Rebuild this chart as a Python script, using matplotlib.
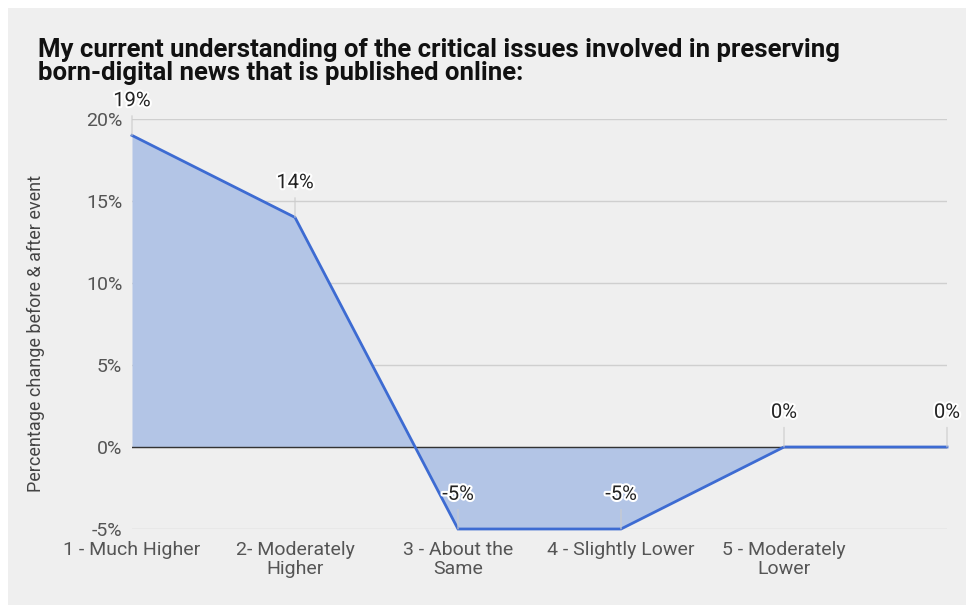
import matplotlib
matplotlib.use("Agg")
import matplotlib.pyplot as plt
from matplotlib.patches import Rectangle
from matplotlib.ticker import FixedLocator, FuncFormatter
import matplotlib.patheffects as pe

plt.rcParams['font.family'] = ['Roboto', 'DejaVu Sans']

title = ("My current understanding of the critical issues involved in preserving\n"
         "born-digital news that is published online:")
categories = ["1 - Much Higher", "2- Moderately\nHigher", "3 - About the\nSame",
              "4 - Slightly Lower", "5 - Moderately\nLower", ""]
values = [19, 14, -5, -5, 0, 0]
y_ticks = [-5, 0, 5, 10, 15, 20]
y_label = "Percentage change before & after event"

W, H = 966, 605
fig = plt.figure(figsize=(W / 100, H / 100), dpi=100, facecolor="white")

# light grey panel behind the chart
fig.patches.append(Rectangle((8 / W, 0), 1 - 8 / W, 1 - 8 / H,
                             transform=fig.transFigure, facecolor="#efefef",
                             edgecolor="none", zorder=-10))

ax = fig.add_axes([132 / W, 1 - 529 / H, (947 - 132) / W, (529 - 119) / H])
ax.set_facecolor("none")

x = list(range(len(values)))
line_color = "#3d6bd2"
ax.fill_between(x, values, 0, color="#b3c5e6", linewidth=0, zorder=2)
ax.plot(x, values, color=line_color, linewidth=2.0, zorder=4,
        clip_on=False, solid_joinstyle="miter")

ax.set_xlim(0, len(values) - 1)
ax.set_ylim(min(y_ticks), max(y_ticks))

ax.yaxis.set_major_locator(FixedLocator(y_ticks))
ax.yaxis.set_major_formatter(FuncFormatter(lambda v, p: f"{v:.0f}%"))
ax.set_xticks(x)
ax.set_xticklabels(categories, fontsize=14, color="#555555",
                   linespacing=1.08, multialignment="center")
ax.tick_params(axis="both", length=0)
ax.tick_params(axis="x", pad=8.5)
ax.tick_params(axis="y", pad=7, labelsize=14, labelcolor="#555555")

for s in ax.spines.values():
    s.set_visible(False)

ax.grid(axis="y", color="#cfcfcf", linewidth=1.0, zorder=1)
ax.axhline(0, color="#333333", linewidth=1.0, zorder=3)

ax.set_ylabel(y_label, fontsize=13, color="#444444")
ax.yaxis.set_label_coords(-0.107, 0.478)

# value labels above each point with a thin leader line
for xi, v in zip(x, values):
    ax.annotate(f"{v:.0f}%", xy=(xi, v), xytext=(0, 25), textcoords="offset points",
                ha="center", va="center", fontsize=14.5, color="#222222",
                zorder=6,
                path_effects=[pe.withStroke(linewidth=3, foreground="white")],
                arrowprops=dict(arrowstyle="-", color="#cccccc", lw=0.8,
                                shrinkA=2, shrinkB=0))

fig.text(38 / W, 1 - 38 / H, title, ha="left", va="top", fontsize=18.5,
         fontweight="bold", color="#111111", linespacing=0.95)

fig.savefig("out.png", dpi=100, facecolor=fig.get_facecolor())
